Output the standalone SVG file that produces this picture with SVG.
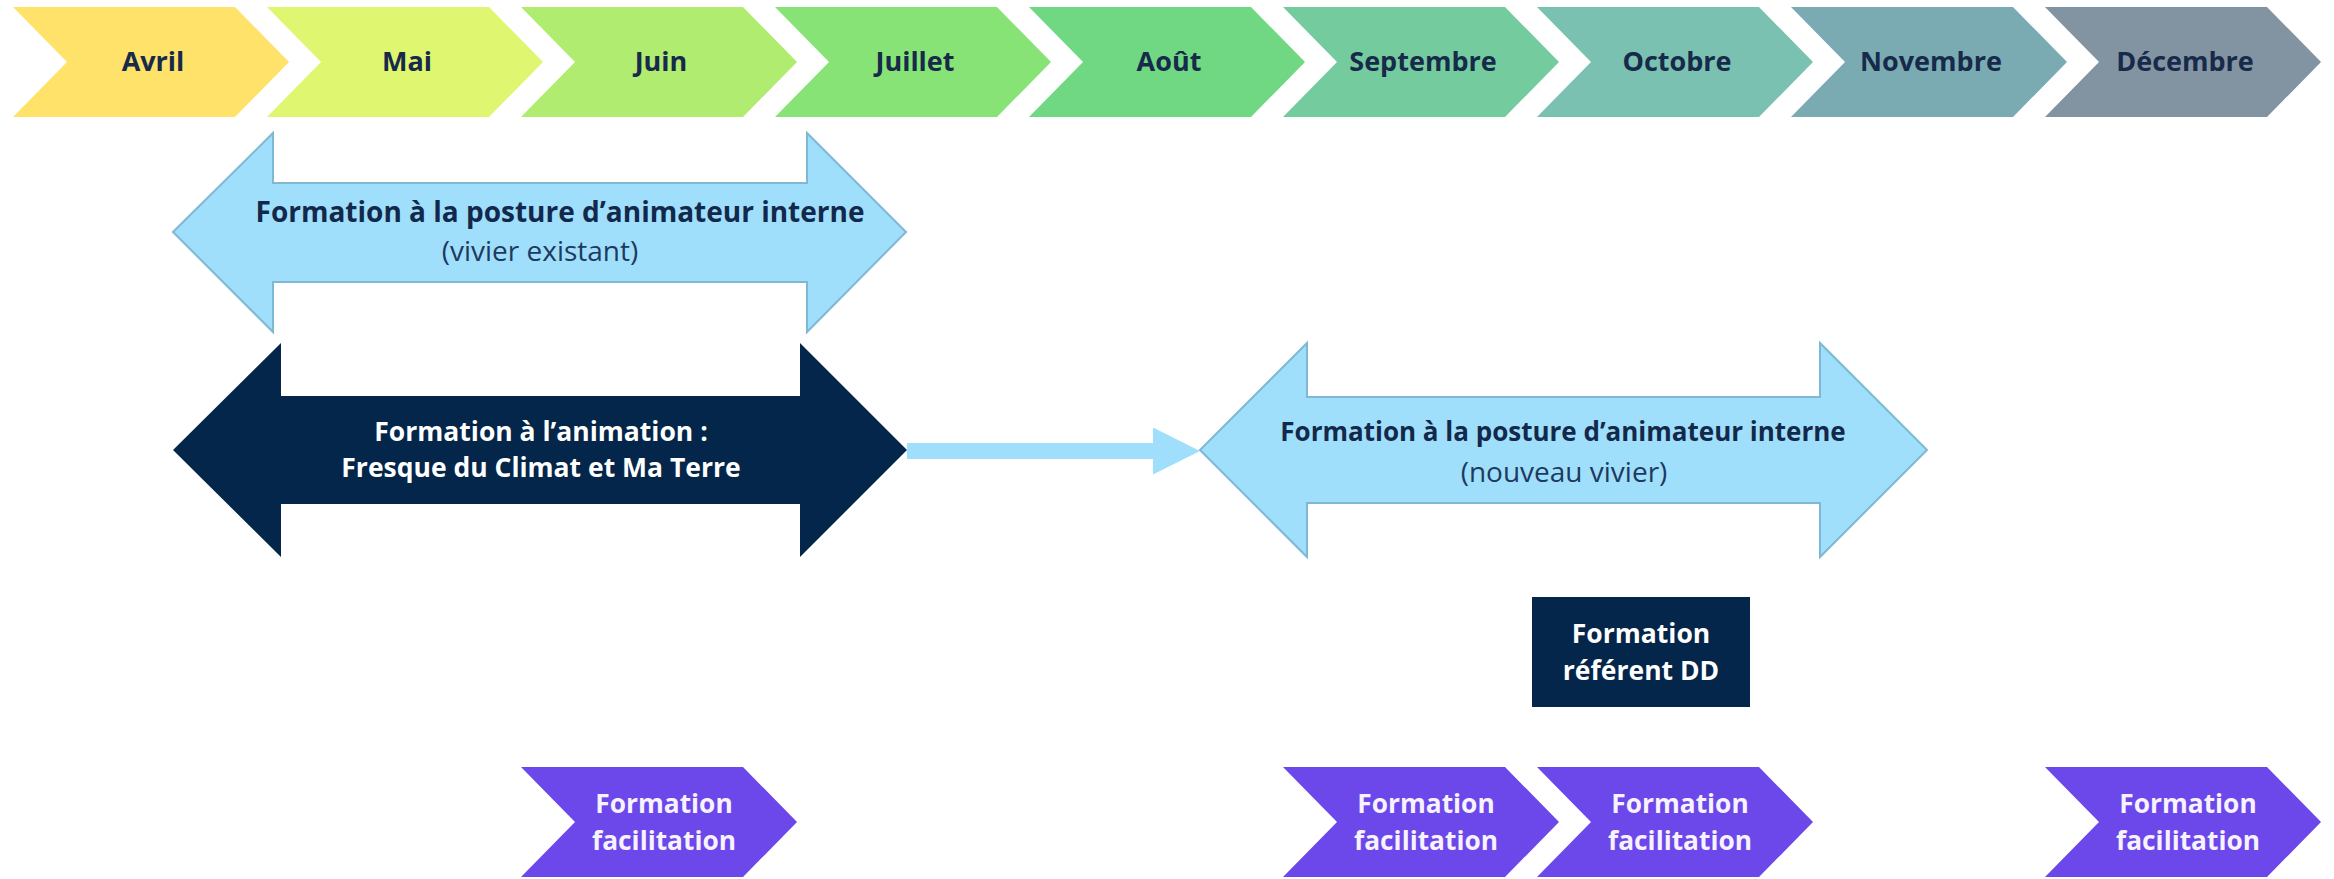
<svg xmlns="http://www.w3.org/2000/svg" width="2334" height="879" viewBox="0 0 2334 879">
<style>
  .m { font-family: "Open Sans", "Liberation Sans", sans-serif; font-weight: 700; font-size: 27px; fill: #172a4a; text-anchor: middle; }
  .fb { font-family: "Open Sans", "Liberation Sans", sans-serif; font-weight: 700; fill: #13294b; text-anchor: middle; }
  .fr { font-family: "Open Sans", "Liberation Sans", sans-serif; font-weight: 400; font-size: 28px; fill: #1d3a60; text-anchor: middle; }
  .w { font-family: "Open Sans", "Liberation Sans", sans-serif; font-weight: 700; font-size: 26.5px; fill: #ffffff; text-anchor: middle; }
  .pw { font-family: "Open Sans", "Liberation Sans", sans-serif; font-weight: 700; font-size: 26.3px; fill: #f6f2ff; text-anchor: middle; }
  .light { fill: #9fdffb; stroke: #7fb8d2; stroke-width: 2; }
  .dark { fill: #03264a; }
  .purple { fill: #6c47e9; }
</style>
<defs>
  <path id="chev" d="M0,0 H222 L276,55 L222,110 H0 L54,55 Z"/>
  <marker id="ah" markerUnits="userSpaceOnUse" markerWidth="48" markerHeight="48" refX="0" refY="23.5" orient="auto">
    <path d="M0,0 L47,23.5 L0,47 Z" fill="#9fdffb"/>
  </marker>
</defs>
<rect width="2334" height="879" fill="#ffffff"/>

<g id="months">
  <g id="m-avril"><use href="#chev" x="13" y="7" fill="#fee26a"/><text class="m" x="153" y="71">Avril</text></g>
  <g id="m-mai"><use href="#chev" x="267" y="7" fill="#def670"/><text class="m" x="407" y="71">Mai</text></g>
  <g id="m-juin"><use href="#chev" x="521" y="7" fill="#b0ec70"/><text class="m" x="661" y="71">Juin</text></g>
  <g id="m-juillet"><use href="#chev" x="775" y="7" fill="#87e376"/><text class="m" x="915" y="71">Juillet</text></g>
  <g id="m-aout"><use href="#chev" x="1029" y="7" fill="#70d883"/><text class="m" x="1169" y="71">Août</text></g>
  <g id="m-septembre"><use href="#chev" x="1283" y="7" fill="#74cc9e"/><text class="m" x="1423" y="71">Septembre</text></g>
  <g id="m-octobre"><use href="#chev" x="1537" y="7" fill="#7ac1b1"/><text class="m" x="1677" y="71">Octobre</text></g>
  <g id="m-novembre"><use href="#chev" x="1791" y="7" fill="#7aabb3"/><text class="m" x="1931" y="71">Novembre</text></g>
  <g id="m-decembre"><use href="#chev" x="2045" y="7" fill="#8293a1"/><text class="m" x="2185" y="71">Décembre</text></g>
</g>

<g id="connectors">
  <line x1="907" y1="451" x2="1153" y2="451" stroke="#9fdffb" stroke-width="16" marker-end="url(#ah)"/>
</g>

<g id="posture-existant">
  <path class="light" d="M173,232 L273,133 L273,183 L807,183 L807,133 L906,232 L807,332 L807,282 L273,282 L273,332 Z"/>
  <text class="fb" x="560" y="222" font-size="28">Formation à la posture d’animateur interne</text>
  <text class="fr" x="540" y="261">(vivier existant)</text>
</g>

<g id="animation">
  <path class="dark" d="M173,450 L281,343 L281,396 L800,396 L800,343 L907,450 L800,557 L800,504 L281,504 L281,557 Z"/>
  <text class="w" x="541" y="441">Formation à l’animation :</text>
  <text class="w" x="541" y="477">Fresque du Climat et Ma Terre</text>
</g>

<g id="posture-nouveau">
  <path class="light" d="M1200,450 L1307,343 L1307,397 L1820,397 L1820,343 L1927,450 L1820,557 L1820,503 L1307,503 L1307,557 Z"/>
  <text class="fb" x="1563" y="441" font-size="26">Formation à la posture d’animateur interne</text>
  <text class="fr" x="1564" y="482">(nouveau vivier)</text>
</g>

<g id="referent-dd">
  <rect class="dark" x="1532" y="597" width="218" height="110"/>
  <text class="w" x="1641" y="643" font-size="27">Formation</text>
  <text class="w" x="1641" y="680" font-size="27">référent DD</text>
</g>

<g id="facilitation-juin">
  <use href="#chev" x="521" y="767" class="purple"/>
  <text class="pw" x="664" y="813">Formation</text>
  <text class="pw" x="664" y="850">facilitation</text>
</g>
<g id="facilitation-septembre">
  <use href="#chev" x="1283" y="767" class="purple"/>
  <text class="pw" x="1426" y="813">Formation</text>
  <text class="pw" x="1426" y="850">facilitation</text>
</g>
<g id="facilitation-octobre">
  <use href="#chev" x="1537" y="767" class="purple"/>
  <text class="pw" x="1680" y="813">Formation</text>
  <text class="pw" x="1680" y="850">facilitation</text>
</g>
<g id="facilitation-decembre">
  <use href="#chev" x="2045" y="767" class="purple"/>
  <text class="pw" x="2188" y="813">Formation</text>
  <text class="pw" x="2188" y="850">facilitation</text>
</g>
</svg>
